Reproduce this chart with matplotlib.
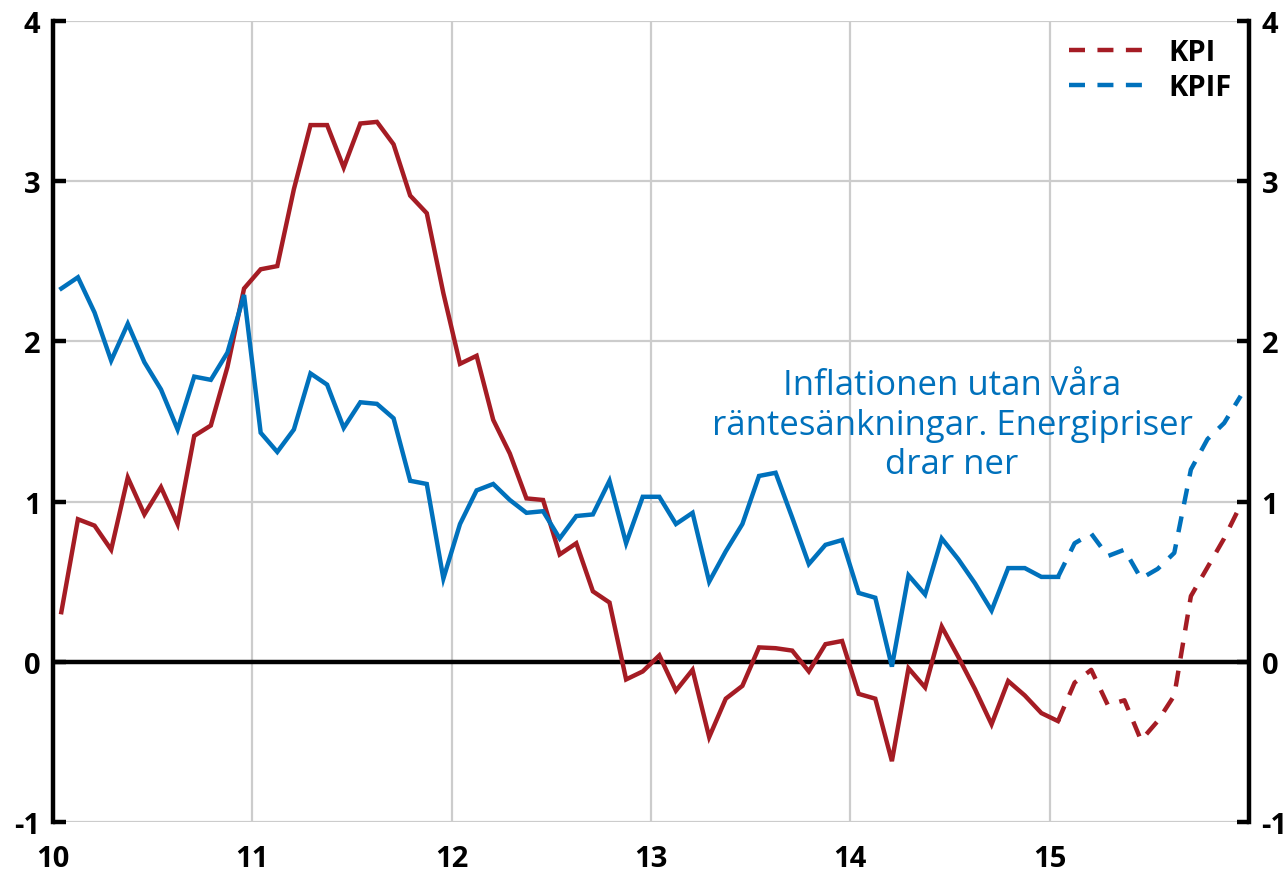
import matplotlib
matplotlib.use("Agg")
import matplotlib.pyplot as plt
import numpy as np

# ---- data (monthly, Jan 2010 - Dec 2015) ----
kpi = [0.31, 0.89, 0.85, 0.70, 1.15, 0.92, 1.09, 0.86, 1.41, 1.475, 1.84, 2.33,
       2.45, 2.47, 2.95, 3.35, 3.35, 3.085, 3.36, 3.37, 3.23, 2.91, 2.80, 2.30,
       1.86, 1.91, 1.51, 1.30, 1.02, 1.01, 0.67, 0.74, 0.44, 0.37, -0.11, -0.06,
       0.04, -0.18, -0.05, -0.47, -0.23, -0.15, 0.09, 0.085, 0.07, -0.06, 0.11, 0.13,
       -0.20, -0.23, -0.62, -0.04, -0.16, 0.22, 0.03, -0.17, -0.39, -0.12, -0.21, -0.32,
       -0.37, -0.13, -0.05, -0.27, -0.24, -0.49, -0.37, -0.21, 0.41, 0.59, 0.77, 0.98]
kpif = [2.33, 2.40, 2.18, 1.88, 2.11, 1.87, 1.70, 1.45, 1.78, 1.76, 1.93, 2.29,
        1.43, 1.31, 1.45, 1.80, 1.73, 1.46, 1.62, 1.61, 1.52, 1.13, 1.11, 0.52,
        0.86, 1.07, 1.11, 1.01, 0.93, 0.94, 0.77, 0.91, 0.92, 1.13, 0.74, 1.03,
        1.03, 0.86, 0.93, 0.50, 0.69, 0.86, 1.16, 1.18, 0.90, 0.61, 0.73, 0.76,
        0.43, 0.40, -0.03, 0.54, 0.42, 0.77, 0.64, 0.49, 0.32, 0.585, 0.585, 0.53,
        0.53, 0.74, 0.80, 0.66, 0.70, 0.52, 0.58, 0.68, 1.20, 1.39, 1.49, 1.66]
n_actual = 61  # Jan 2010 .. Jan 2015 outcomes; remaining months are forecast
series_labels = ["KPI", "KPIF"]
x_ticks = [10, 11, 12, 13, 14, 15]
x_ticklabels = ["10", "11", "12", "13", "14", "15"]
y_ticks = [-1, 0, 1, 2, 3, 4]
annotation = "Inflationen utan våra\nräntesänkningar. Energipriser\ndrar ner"

RED = "#A51C24"
BLUE = "#0071BC"
GRID = "#CCCCCC"

plt.rcParams['font.family'] = ['Open Sans', 'DejaVu Sans']

x = 10 + (np.arange(len(kpi)) + 0.5) / 12.0

fig = plt.figure(figsize=(12.87, 8.78), dpi=100)
ax = fig.add_axes([0.0412, 0.0626, 0.9293, 0.9124])

lw = 3.2
dash = (0, (3.6, 2.8))
for vals, col, lab in [(kpi, RED, series_labels[0]), (kpif, BLUE, series_labels[1])]:
    ax.plot(x[:n_actual], vals[:n_actual], color=col, lw=lw, solid_joinstyle='miter',
            zorder=4)
    ax.plot(x[n_actual - 1:], vals[n_actual - 1:], color=col, lw=lw, linestyle=dash,
            zorder=4, label=lab)

ax.set_xlim(10, 16)
ax.set_ylim(-1, 4)
ax.set_xticks(x_ticks)
ax.set_xticklabels(x_ticklabels)
ax.set_yticks(y_ticks)
ax.set_yticklabels([str(v) for v in y_ticks])

# grid
for xv in range(11, 16):
    ax.axvline(xv, color=GRID, lw=1.6, zorder=1)
for yv in y_ticks:
    if yv != 0:
        ax.axhline(yv, color=GRID, lw=1.6, zorder=1)
ax.axhline(0, color='black', lw=3.2, zorder=3)

for s in ['top', 'bottom']:
    ax.spines[s].set_visible(False)
for s in ['left', 'right']:
    ax.spines[s].set_linewidth(3.2)
    ax.spines[s].set_color('black')
    ax.spines[s].set_zorder(5)

ax.tick_params(axis='y', which='both', direction='in', length=9, width=3.2,
               left=True, right=True, labelleft=True, labelright=True, pad=9,
               labelsize=21)
ax.tick_params(axis='x', length=0, pad=16, labelsize=21)
for lab in ax.get_xticklabels() + ax.get_yticklabels():
    lab.set_fontweight('bold')
for t in ax.yaxis.get_major_ticks():
    t.label2.set_fontweight('bold')
    t.label2.set_fontsize(21)

leg = ax.legend(loc='upper right', frameon=False, handlelength=2.9,
                handletextpad=0.5, labelspacing=0.2, borderaxespad=0.2,
                prop={'weight': 'bold', 'size': 21})

ax.text(14.51, 1.48, annotation, color=BLUE, fontsize=25, ha='center', va='center',
        linespacing=1.22, zorder=6)

fig.savefig("out.png", dpi=100)
